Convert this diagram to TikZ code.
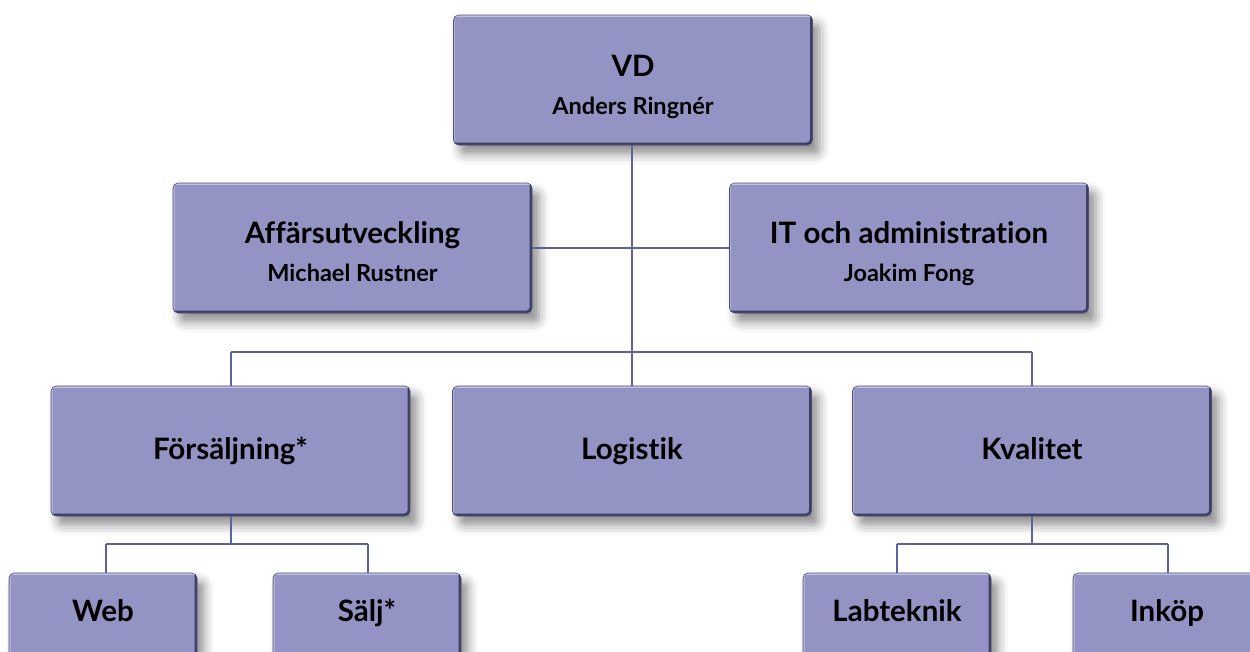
\documentclass[tikz,border=0pt]{standalone}
\usepackage{fontspec}
\setmainfont{Lato}[Ligatures={NoCommon}]
\usetikzlibrary{shadows.blur}
\definecolor{boxfill}{RGB}{148,148,196}
\definecolor{boxdark}{RGB}{62,62,100}
\definecolor{boxlight}{RGB}{196,196,228}
\definecolor{linecol}{RGB}{96,96,156}
\tikzset{
  orgbox/.style={rounded corners=5pt, fill=boxfill, draw=boxdark!80!boxfill, line width=0.6pt,
    minimum width=359pt, minimum height=130pt, inner sep=0pt,
    blur shadow={shadow xshift=7pt, shadow yshift=-9pt, shadow blur radius=10pt, shadow opacity=45},
    path picture={
      \draw[boxdark, line width=5pt] ([xshift=-1pt]path picture bounding box.south west) -- (path picture bounding box.south east) -- ([yshift=1pt]path picture bounding box.north east);
      \draw[boxlight, line width=3pt] (path picture bounding box.north west) -- (path picture bounding box.north east);
      \draw[boxlight!60!boxfill, line width=3pt] (path picture bounding box.north west) -- (path picture bounding box.south west);
    }},
  smallbox/.style={orgbox, minimum width=188pt},
  title/.style={anchor=base, inner sep=0pt, font=\bfseries\fontsize{29.5}{34}\selectfont},
  sub/.style={anchor=base, inner sep=0pt, font=\bfseries\fontsize{23.5}{28}\selectfont},
  conn/.style={draw=linecol, line width=1.6pt}
}
\begin{document}
\begin{tikzpicture}[x=1pt,y=-1pt]
\useasboundingbox (0,0) rectangle (1250,651);
\clip (0,0) rectangle (1250,651);
\coordinate (busA) at (632,248);
\coordinate (busB) at (632,352);
\coordinate (busL) at (231,352);
\coordinate (busR) at (1032,352);
\coordinate (fsBus) at (231,544);
\coordinate (webTop) at (106,544);
\coordinate (saljTop) at (368,544);
\coordinate (kvBus) at (1032,544);
\coordinate (labTop) at (897,544);
\coordinate (inkTop) at (1168,544);

% boxes
\node[orgbox] (vd) at (633,80) {};
\node[orgbox] (aff) at (352.5,248) {};
\node[orgbox] (it) at (909,248) {};
\node[orgbox] (fs) at (230.5,451) {};
\node[orgbox] (lo) at (632,451) {};
\node[orgbox] (kv) at (1032,451) {};
\node[smallbox] (web) at (103,638) {};
\node[smallbox] (salj) at (367,638) {};
\node[smallbox] (lab) at (897,638) {};
\node[smallbox] (ink) at (1167,638) {};

% texts
\node[title] (vdT) at (633,76) {VD};
\node[sub] (vdS) at (633,114) {Anders Ringnér};
\node[title] (affT) at (352.5,243) {Affärsutveckling};
\node[sub] (affS) at (352.5,281) {Michael Rustner};
\node[title] (itT) at (909,243) {IT och administration};
\node[sub] (itS) at (909,281) {Joakim Fong};
\node[title] (fsT) at (230.5,459) {Försäljning*};
\node[title] (loT) at (632,459) {Logistik};
\node[title] (kvT) at (1032,459) {Kvalitet};
\node[title] (webT) at (103,621) {Web};
\node[title] (saljT) at (367,621) {Sälj*};
\node[title] (labT) at (897,621) {Labteknik};
\node[title] (inkT) at (1167,621) {Inköp};

% connectors
\draw[conn] (vd.south -| busA) -- (busB) -- (lo.north -| busB);
\draw[conn] (aff.east |- busA) -- (it.west |- busA);
\draw[conn] (busL) -- (busR);
\draw[conn] (busL) -- (fs.north -| busL);
\draw[conn] (busR) -- (kv.north -| busR);
\draw[conn] (fs.south -| fsBus) -- (fsBus);
\draw[conn] (webTop) -- (saljTop);
\draw[conn] (webTop) -- (web.north -| webTop);
\draw[conn] (saljTop) -- (salj.north -| saljTop);
\draw[conn] (kv.south -| kvBus) -- (kvBus);
\draw[conn] (labTop) -- (inkTop);
\draw[conn] (labTop) -- (lab.north -| labTop);
\draw[conn] (inkTop) -- (ink.north -| inkTop);
\end{tikzpicture}
\end{document}
